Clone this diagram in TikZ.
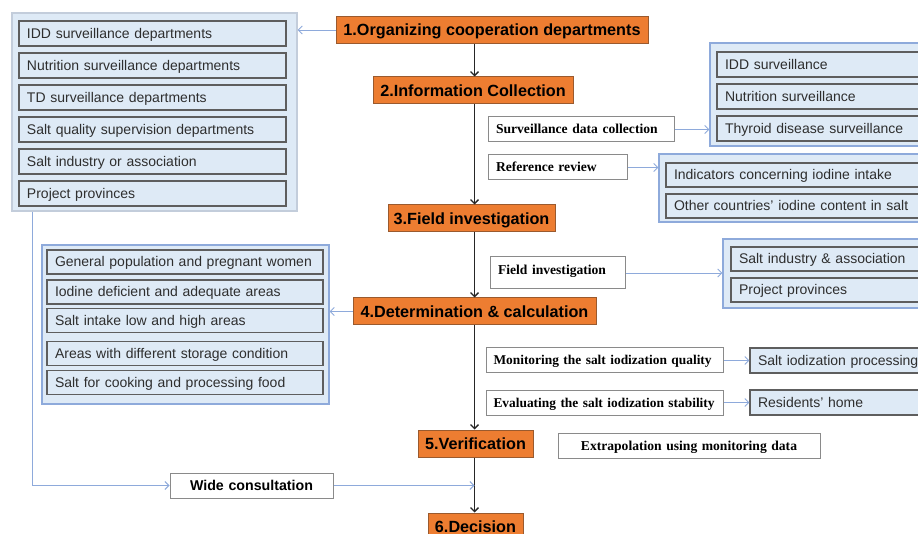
\documentclass[tikz,border=0pt]{standalone}
\usepackage{fontspec}
\setmainfont{Liberation Serif}
\setsansfont{Liberation Sans}
\usetikzlibrary{arrows.meta}
\definecolor{orgfill}{HTML}{ED7D31}
\definecolor{orgline}{HTML}{9A5A2E}
\definecolor{lblue}{HTML}{DEEAF6}
\definecolor{bline}{HTML}{8EAADB}
\definecolor{aline}{HTML}{C3CDDB}
\definecolor{iline}{HTML}{5E5E5E}
\definecolor{wline}{HTML}{8A8A8A}
\definecolor{itext}{HTML}{2E2E2E}
\tikzset{
  stagebox/.style={draw=orgline, fill=orgfill, line width=1pt, inner sep=0pt, minimum height=27pt,
    text height=11.5pt, text depth=0pt,
    font=\sffamily\bfseries\fontsize{16.2}{18}\selectfont},
  outerbox/.style={draw=bline, fill=lblue, line width=1.3pt, inner sep=0pt},
  itembox/.style={draw=iline, fill=lblue, line width=1.2pt, inner xsep=8pt, inner ysep=0pt, minimum height=25pt,
    text height=10pt, text depth=0pt,
    align=left, text=itext, font=\sffamily\fontsize{14}{16}\selectfont},
  notebox/.style={draw=wline, fill=white, line width=1pt, inner xsep=8pt, inner ysep=0pt, minimum height=25pt,
    text height=9pt, text depth=0pt,
    align=left, font=\rmfamily\bfseries\fontsize{13.6}{15}\selectfont},
  conn/.style={draw=bline, line width=0.9pt, -{Straight Barb[length=4pt,width=8pt]}},
  mainarrow/.style={draw=black!85, line width=1.3pt, -{Straight Barb[length=4pt,width=8pt]}},
}
\begin{document}
\begin{tikzpicture}[x=1pt,y=-1pt]
\useasboundingbox (0,0) rectangle (918,534);
\clip (0,0) rectangle (918,534);
\coordinate (main) at (474.5,0);
% outer groups
\node[outerbox, draw=aline, minimum width=285pt, minimum height=198pt] (A) at (154.5,112) {};
\node[outerbox, minimum width=220pt, minimum height=103pt] (B) at (820,94.5) {};
\node[outerbox, minimum width=271pt, minimum height=68pt] (C) at (794.5,188) {};
\node[outerbox, minimum width=207pt, minimum height=69pt] (D) at (826.5,273.5) {};
\node[outerbox, minimum width=287pt, minimum height=159pt] (E) at (185.5,324.5) {};
% group A items
\node[itembox, text width=251pt] (a1) at (152.5,33.5) {IDD surveillance departments};
\node[itembox, text width=251pt] (a2) at (152.5,65.5) {Nutrition surveillance departments};
\node[itembox, text width=251pt] (a3) at (152.5,97.5) {TD surveillance departments};
\node[itembox, text width=251pt] (a4) at (152.5,129.5) {Salt quality supervision departments};
\node[itembox, text width=251pt] (a5) at (152.5,161.5) {Salt industry or association};
\node[itembox, text width=251pt] (a6) at (152.5,193.5) {Project provinces};
% group B items
\node[itembox, text width=197pt] (b1) at (823.5,64.5) {IDD surveillance};
\node[itembox, text width=197pt] (b2) at (823.5,96.5) {Nutrition surveillance};
\node[itembox, text width=197pt] (b3) at (823.5,128.5) {Thyroid disease surveillance};
% group C items
\node[itembox, text width=248pt, minimum height=24pt] (c1) at (798,175) {Indicators concerning iodine intake};
\node[itembox, text width=248pt, minimum height=24pt] (c2) at (798,206) {Other countries' iodine content in salt};
% group D items
\node[itembox, text width=183pt, minimum height=24pt] (d1) at (830.5,259) {Salt industry \& association};
\node[itembox, text width=183pt, minimum height=24pt] (d2) at (830.5,290) {Project provinces};
% group E items
\node[itembox, text width=260pt, minimum height=24pt] (e1) at (185,262) {General population and pregnant women};
\node[itembox, text width=260pt, minimum height=24pt] (e2) at (185,292) {Iodine deficient and adequate areas};
\node[itembox, text width=260pt, minimum height=24pt] (e3) at (185,320.5) {Salt intake low and high areas};
\node[itembox, text width=260pt, minimum height=24pt] (e4) at (185,353.5) {Areas with different storage condition};
\node[itembox, text width=260pt, minimum height=24pt] (e5) at (185,382.5) {Salt for cooking and processing food};
% single items
\node[itembox, text width=164pt] (sip) at (840,360.5) {Salt iodization processing};
\node[itembox, text width=164pt] (res) at (840,402.5) {Residents' home};
% stages
\node[stagebox, minimum width=312pt] (s1) at (492,30) {1.Organizing cooperation departments};
\node[stagebox, minimum width=200pt] (s2) at (473,90.5) {2.Information Collection};
\node[stagebox, minimum width=167pt] (s3) at (471.5,218.5) {3.Field investigation};
\node[stagebox, minimum width=243pt] (s4) at (474.5,311.5) {4.Determination \& calculation};
\node[stagebox, minimum width=115pt] (s5) at (475.5,443.5) {5.Verification};
\node[stagebox, minimum width=95pt] (s6) at (475.5,526.5) {6.Decision};
% notes
\node[notebox, text width=170pt] (surv) at (581,129.5) {Surveillance data collection};
\node[notebox, text width=123pt] (ref) at (557.5,167.5) {Reference review};
\node[notebox, text width=119pt, minimum height=32pt, text depth=6pt] (fld) at (557.5,273) {Field investigation};
\node[notebox, text width=230pt, inner xsep=3.5pt, font=\rmfamily\bfseries\fontsize{13.4}{15}\selectfont] (mon) at (604.5,360.5) {\hspace*{4pt}Monitoring the salt iodization quality};
\node[notebox, text width=230pt, inner xsep=3.5pt, font=\rmfamily\bfseries\fontsize{13.4}{15}\selectfont] (eva) at (604.5,402.5) {\hspace*{4pt}Evaluating the salt iodization stability};
\node[notebox, align=center, text width=246pt] (ext) at (689,445.5) {Extrapolation using monitoring data};
\node[notebox, align=center, text width=147pt, text height=10pt, font=\sffamily\bfseries\fontsize{14.2}{16}\selectfont] (wide) at (251.5,485.5) {Wide consultation};
% main flow
\draw[mainarrow] (s1.south -| main) -- (s2.north -| main);
\draw[mainarrow] (s2.south -| main) -- (s3.north -| main);
\draw[mainarrow] (s3.south -| main) -- (s4.north -| main);
\draw[mainarrow] (s4.south -| main) -- (s5.north -| main);
\draw[mainarrow] (s5.south -| main) -- (s6.north -| main);
% blue connectors
\draw[conn] (s1.west) -- (s1.west -| A.east);
\draw[conn] (s4.west) -- (s4.west -| E.east);
\draw[conn] (surv.east) -- (surv.east -| B.west);
\draw[conn] (ref.east) -- (ref.east -| C.west);
\draw[conn] (fld.east) -- (fld.east -| D.west);
\draw[conn] (mon.east) -- (sip.west);
\draw[conn] (eva.east) -- (res.west);
\draw[conn] ([xshift=21pt]A.south west) |- (wide.west);
\draw[conn] (wide.east) -- (wide.east -| main);
\end{tikzpicture}
\end{document}
